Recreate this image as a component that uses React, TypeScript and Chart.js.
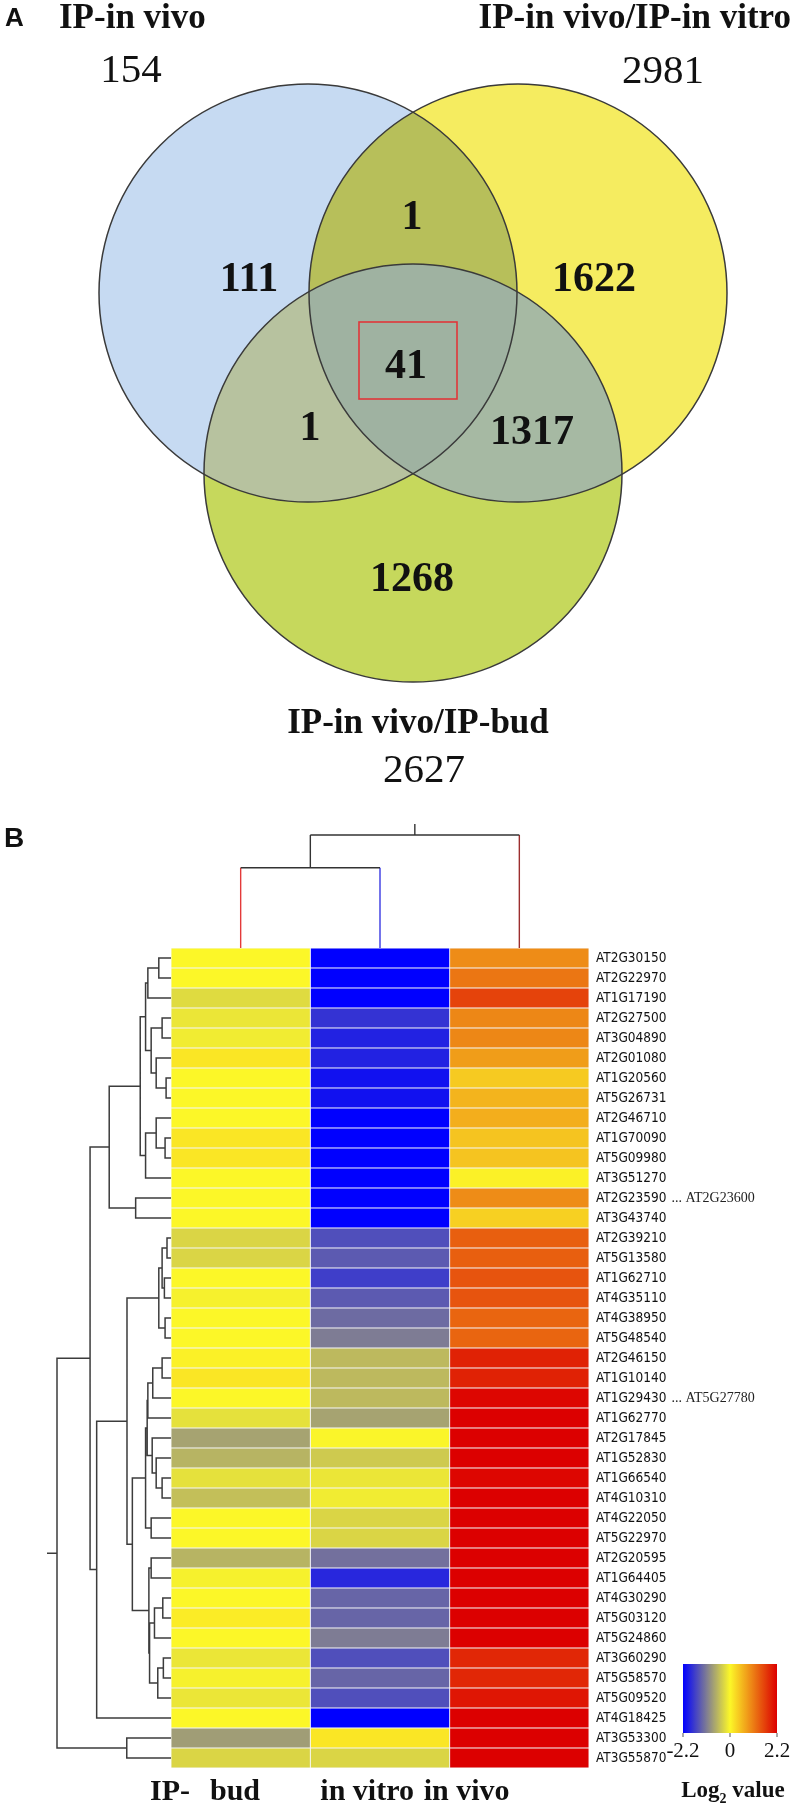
import React, { useEffect, useRef } from 'react';
import { Chart, registerables } from 'chart.js';

Chart.register(...registerables);

// ---------------- Panel A data (Venn) ----------------
const setNames = ['IP-in vivo', 'IP-in vivo/IP-in vitro', 'IP-in vivo/IP-bud'];
const setTotals = [154, 2981, 2627];
// regions: vivo only, vivo∩vitro, vitro only, all three, vivo∩bud, vitro∩bud, bud only
const regionCounts = [111, 1, 1622, 41, 1, 1317, 1268];

// ---------------- Panel B data (heatmap) ----------------
const genes = [
  'AT2G30150', 'AT2G22970', 'AT1G17190', 'AT2G27500', 'AT3G04890', 'AT2G01080', 'AT1G20560',
  'AT5G26731', 'AT2G46710', 'AT1G70090', 'AT5G09980', 'AT3G51270', 'AT2G23590', 'AT3G43740',
  'AT2G39210', 'AT5G13580', 'AT1G62710', 'AT4G35110', 'AT4G38950', 'AT5G48540', 'AT2G46150',
  'AT1G10140', 'AT1G29430', 'AT1G62770', 'AT2G17845', 'AT1G52830', 'AT1G66540', 'AT4G10310',
  'AT4G22050', 'AT5G22970', 'AT2G20595', 'AT1G64405', 'AT4G30290', 'AT5G03120', 'AT5G24860',
  'AT3G60290', 'AT5G58570', 'AT5G09520', 'AT4G18425', 'AT3G53300', 'AT3G55870',
];
const columns = ['bud', 'in vitro', 'in vivo'];
const budLog2 = [
  0.0, 0.0, -0.25, -0.15, -0.1, 0.15, 0.0, 0.0, 0.0, 0.15, 0.15, 0.0, 0.0, 0.0,
  -0.3, -0.3, 0.0, -0.05, 0.0, 0.0, 0.05, 0.15, 0.0, -0.2, -0.75, -0.6, -0.2, -0.5,
  0.0, 0.0, -0.6, -0.05, 0.0, 0.1, 0.0, -0.15, -0.05, -0.15, 0.0, -0.8, -0.3,
];
const vitroLog2 = [
  -2.2, -2.2, -2.2, -1.75, -1.9, -1.9, -2.05, -2.05, -2.2, -2.2, -2.2, -2.2, -2.2, -2.2,
  -1.5, -1.4, -1.65, -1.4, -1.25, -1.1, -0.55, -0.55, -0.55, -0.75, -0.02, -0.4, -0.15, -0.1,
  -0.3, -0.3, -1.2, -1.85, -1.3, -1.3, -1.1, -1.5, -1.3, -1.5, -2.2, 0.15, -0.3,
];
const vivoLog2 = [
  0.95, 1.15, 1.6, 1.0, 1.0, 0.8, 0.4, 0.6, 0.65, 0.45, 0.45, 0.05, 0.95, 0.35,
  1.35, 1.35, 1.45, 1.45, 1.3, 1.3, 1.9, 1.9, 2.15, 2.2, 2.2, 2.2, 2.15, 2.2,
  2.2, 2.2, 2.2, 2.2, 2.2, 2.2, 2.2, 1.85, 1.85, 2.0, 2.2, 2.2, 2.2,
];
const legendTicks = [-2.2, 0, 2.2];
const noteGenes = ['AT2G23590', 'AT1G29430'];
const noteTexts = ['... AT2G23600', '... AT5G27780'];
const bottomLabels = ['IP-', 'bud', 'in vitro', 'in vivo'];
const bottomLabelColumn = [0, 0, 1, 2];

// row dendrogram: [childA, childB, height]; leaves 0..40, merge k -> node 41+k
const rowMerges = [
  [0, 1, 0.107], [41, 2, 0.203], [3, 4, 0.078], [6, 7, 0.043], [5, 44, 0.13],
  [43, 45, 0.174], [42, 46, 0.223], [9, 10, 0.052], [8, 48, 0.13], [49, 11, 0.223],
  [47, 50, 0.27], [12, 13, 0.31], [51, 52, 0.542], [14, 15, 0.035], [16, 17, 0.058],
  [54, 55, 0.078], [18, 19, 0.052], [56, 57, 0.107], [20, 21, 0.078], [59, 22, 0.16],
  [60, 23, 0.203], [26, 27, 0.078], [25, 62, 0.13], [24, 63, 0.165], [61, 64, 0.209],
  [28, 29, 0.174], [65, 66, 0.223], [30, 31, 0.174], [32, 33, 0.072], [69, 34, 0.145],
  [35, 36, 0.067], [71, 37, 0.116], [70, 72, 0.188], [68, 73, 0.194], [67, 74, 0.339],
  [58, 75, 0.386], [76, 38, 0.652], [53, 77, 0.71], [39, 40, 0.388], [78, 79, 1.0],
];
// column dendrogram: leaves 0..2, merge k -> node 3+k
const colMerges = [[0, 1, 0.71], [3, 2, 1.0]];

// ---------------- layout & style ----------------
const PAGE_W = 793;
const VENN_H = 800;
const HEAT_TOP = 800;
const HEAT_H = 1011;
const SERIF = "'Liberation Serif', 'Times New Roman', serif";
const SANS = "'Liberation Sans', Arial, sans-serif";
const GENE_FONT = "'DejaVu Sans Condensed', 'Liberation Sans', sans-serif";
const GENE_SIZE = 13.5;

const circleLayout = [
  { x: 308, y: 293, r: 209 },
  { x: 518, y: 293, r: 209 },
  { x: 413, y: 473, r: 209 },
];
const circleFill = ['#c6daf2', '#f5ec60', '#c6d85c'];
const overlapFill = { ab: '#b7bf5a', ac: '#b7c29f', bc: '#a6b9a3', abc: '#9fb2a1' };
const regionLabelPos = [[249, 291], [412, 229], [594, 291], [406, 378], [310, 440], [532, 444], [412, 591]];
const setNamePos = [
  { x: 59, y: 28, align: 'left' },
  { x: 791, y: 28, align: 'right' },
  { x: 418, y: 733, align: 'center' },
];
const setTotalPos = [[131, 82], [663, 83], [424, 782]];
const highlightRect = [359, 322, 457, 399];

const BLUE = [0, 0, 255];
const YELLOW = [252, 247, 40];
const RED = [220, 0, 0];
function colorFor(v: number): string {
  const t = Math.max(-1, Math.min(1, v / 2.2));
  const target = t < 0 ? BLUE : RED;
  const f = Math.abs(t);
  const c = YELLOW.map((x, i) => Math.round(x + (target[i] - x) * f));
  return `rgb(${c[0]},${c[1]},${c[2]})`;
}

const vennPlugin = {
  id: 'vennDecor',
  afterDatasetsDraw(chart: any) {
    const ctx = chart.ctx;
    const sx = chart.scales.x;
    const sy = chart.scales.y;
    const pts = chart.getDatasetMeta(0).data.map((el: any, i: number) => ({
      x: el.x,
      y: el.y,
      r: sx.getPixelForValue(circleLayout[i].x + circleLayout[i].r) - sx.getPixelForValue(circleLayout[i].x),
    }));
    const circle = (p: any) => {
      ctx.beginPath();
      ctx.arc(p.x, p.y, p.r, 0, Math.PI * 2);
    };
    ctx.save();
    pts.forEach((p: any, i: number) => {
      circle(p);
      ctx.fillStyle = circleFill[i];
      ctx.fill();
    });
    const fillOverlap = (idx: number[], color: string) => {
      ctx.save();
      idx.forEach((i) => {
        circle(pts[i]);
        ctx.clip();
      });
      ctx.fillStyle = color;
      ctx.fillRect(0, 0, chart.width, chart.height);
      ctx.restore();
    };
    fillOverlap([0, 1], overlapFill.ab);
    fillOverlap([0, 2], overlapFill.ac);
    fillOverlap([1, 2], overlapFill.bc);
    fillOverlap([0, 1, 2], overlapFill.abc);
    ctx.strokeStyle = '#3a3a3a';
    ctx.lineWidth = 1.5;
    pts.forEach((p: any) => {
      circle(p);
      ctx.stroke();
    });
    // highlight box
    const [x0, y0, x1, y1] = highlightRect;
    ctx.strokeStyle = '#e0363a';
    ctx.lineWidth = 1.6;
    ctx.strokeRect(sx.getPixelForValue(x0), sy.getPixelForValue(y0),
      sx.getPixelForValue(x1) - sx.getPixelForValue(x0), sy.getPixelForValue(y1) - sy.getPixelForValue(y0));
    // texts
    ctx.fillStyle = '#111';
    ctx.textBaseline = 'alphabetic';
    ctx.font = `bold 26px ${SANS}`;
    ctx.textAlign = 'left';
    ctx.fillText('A', 5, 26);
    ctx.font = `bold 35px ${SERIF}`;
    setNames.forEach((n, i) => {
      const p = setNamePos[i];
      ctx.textAlign = p.align;
      ctx.fillText(n, sx.getPixelForValue(p.x), sy.getPixelForValue(p.y));
    });
    ctx.font = `41px ${SERIF}`;
    ctx.textAlign = 'center';
    setTotals.forEach((v, i) => {
      ctx.fillText(String(v), sx.getPixelForValue(setTotalPos[i][0]), sy.getPixelForValue(setTotalPos[i][1]));
    });
    ctx.font = `bold 42px ${SERIF}`;
    regionCounts.forEach((v, i) => {
      ctx.fillText(String(v), sx.getPixelForValue(regionLabelPos[i][0]), sy.getPixelForValue(regionLabelPos[i][1]));
    });
    ctx.restore();
  },
};

const ROW_DENDRO_W = 114;
const COL_DENDRO_H = 113;
const legColors = ['#e33a3a', '#3838e2', '#9c2e2e'];

const heatPlugin = {
  id: 'heatDecor',
  afterDraw(chart: any) {
    const ctx = chart.ctx;
    const ys = chart.scales.y;
    const xs = chart.scales.x;
    const area = chart.chartArea;
    ctx.save();
    // panel letter
    ctx.fillStyle = '#111';
    ctx.font = `bold 28px ${SANS}`;
    ctx.textAlign = 'left';
    ctx.textBaseline = 'alphabetic';
    ctx.fillText('B', 4, 47);

    // row dendrogram
    const nodes: any[] = genes.map((_, i) => ({ x: area.left, y: ys.getPixelForValue(i) }));
    ctx.strokeStyle = '#3c3c3c';
    ctx.lineWidth = 1.5;
    ctx.beginPath();
    rowMerges.forEach(([a, b, h]) => {
      const A = nodes[a];
      const B = nodes[b];
      const x = area.left - h * ROW_DENDRO_W;
      ctx.moveTo(A.x, A.y);
      ctx.lineTo(x, A.y);
      ctx.lineTo(x, B.y);
      ctx.lineTo(B.x, B.y);
      nodes.push({ x, y: (A.y + B.y) / 2 });
    });
    const root = nodes[nodes.length - 1];
    ctx.moveTo(root.x, root.y);
    ctx.lineTo(root.x - 10, root.y);
    ctx.stroke();

    // column dendrogram
    const cn: any[] = columns.map((_, c) => ({ x: xs.getPixelForValue(c + 0.5), y: area.top, leaf: c }));
    ctx.lineWidth = 1.4;
    colMerges.forEach(([a, b, h]) => {
      const A = cn[a];
      const B = cn[b];
      const y = area.top - h * COL_DENDRO_H;
      [A, B].forEach((N) => {
        ctx.strokeStyle = N.leaf !== undefined ? legColors[N.leaf] : '#333';
        ctx.beginPath();
        ctx.moveTo(N.x, N.y);
        ctx.lineTo(N.x, y);
        ctx.stroke();
      });
      ctx.strokeStyle = '#333';
      ctx.beginPath();
      ctx.moveTo(A.x, y);
      ctx.lineTo(B.x, y);
      ctx.stroke();
      cn.push({ x: (A.x + B.x) / 2, y });
    });
    const croot = cn[cn.length - 1];
    ctx.strokeStyle = '#333';
    ctx.beginPath();
    ctx.moveTo(croot.x, croot.y);
    ctx.lineTo(croot.x, croot.y - 11);
    ctx.stroke();

    // notes after some gene labels
    const tickFont = `${GENE_SIZE}px ${GENE_FONT}`;
    noteGenes.forEach((g, k) => {
      const i = genes.indexOf(g);
      ctx.font = tickFont;
      const w = ctx.measureText(g).width;
      ctx.font = `14px ${SERIF}`;
      ctx.fillStyle = '#222';
      ctx.textAlign = 'left';
      ctx.textBaseline = 'middle';
      ctx.fillText(noteTexts[k], area.right + 7 + w + 5, ys.getPixelForValue(i));
    });

    // bottom column labels
    const offsets = [-21, 39, 10, -26];
    ctx.font = `bold 30px ${SERIF}`;
    ctx.fillStyle = '#111';
    ctx.textAlign = 'left';
    ctx.textBaseline = 'alphabetic';
    bottomLabels.forEach((t, i) => {
      ctx.fillText(t, xs.getPixelForValue(bottomLabelColumn[i]) + offsets[i], 1000);
    });

    // colour bar legend
    const lx0 = 683, lx1 = 777, ly0 = 864, ly1 = 933;
    const vmin = legendTicks[0], vmax = legendTicks[legendTicks.length - 1];
    const grad = ctx.createLinearGradient(lx0, 0, lx1, 0);
    for (let s = 0; s <= 40; s++) {
      const v = vmin + ((vmax - vmin) * s) / 40;
      grad.addColorStop(s / 40, colorFor(v));
    }
    ctx.fillStyle = grad;
    ctx.fillRect(lx0, ly0, lx1 - lx0, ly1 - ly0);
    ctx.strokeStyle = '#555';
    ctx.lineWidth = 1;
    ctx.font = `21px ${SERIF}`;
    ctx.fillStyle = '#111';
    ctx.textAlign = 'center';
    legendTicks.forEach((v) => {
      const x = lx0 + ((v - vmin) / (vmax - vmin)) * (lx1 - lx0);
      ctx.beginPath();
      ctx.moveTo(x, ly1);
      ctx.lineTo(x, ly1 + 4);
      ctx.stroke();
      ctx.fillText(v === 0 ? '0' : v.toFixed(1), x, 957);
    });
    // Log2 value
    ctx.textAlign = 'left';
    const big = `bold 23px ${SERIF}`;
    const small = `bold 14px ${SERIF}`;
    ctx.font = big;
    const w1 = ctx.measureText('Log').width;
    const w3 = ctx.measureText(' value').width;
    ctx.font = small;
    const w2 = ctx.measureText('2').width;
    let x = 733 - (w1 + w2 + w3) / 2;
    ctx.font = big;
    ctx.fillText('Log', x, 997);
    x += w1;
    ctx.font = small;
    ctx.fillText('2', x, 1003);
    x += w2;
    ctx.font = big;
    ctx.fillText(' value', x, 997);
    ctx.restore();
  },
};

export default function App() {
  const vennRef = useRef<HTMLCanvasElement>(null);
  const heatRef = useRef<HTMLCanvasElement>(null);

  useEffect(() => {
    const venn = new Chart(vennRef.current as HTMLCanvasElement, {
      type: 'scatter',
      data: {
        datasets: [
          {
            label: 'sets',
            data: circleLayout.map((c) => ({ x: c.x, y: c.y })),
            pointRadius: 0,
            pointHoverRadius: 0,
            pointBorderWidth: 0,
            borderWidth: 0,
            showLine: false,
          },
        ],
      },
      options: {
        responsive: false,
        animation: false,
        devicePixelRatio: 1,
        layout: { padding: 0 },
        plugins: { legend: { display: false }, tooltip: { enabled: false } },
        scales: {
          x: { type: 'linear', min: 0, max: PAGE_W, display: false },
          y: { type: 'linear', min: 0, max: VENN_H, reverse: true, display: false },
        },
      },
      plugins: [vennPlugin],
    } as any);

    const values = [budLog2, vitroLog2, vivoLog2];
    const heat = new Chart(heatRef.current as HTMLCanvasElement, {
      type: 'bar',
      data: {
        labels: genes,
        datasets: columns.map((col, c) => ({
          label: col,
          data: genes.map(() => [c, c + 1]),
          backgroundColor: values[c].map(colorFor),
          borderColor: 'rgba(245,245,245,0.95)',
          borderWidth: 0.8,
          borderSkipped: false,
          grouped: false,
          barPercentage: 1,
          categoryPercentage: 1,
        })),
      },
      options: {
        indexAxis: 'y',
        responsive: false,
        animation: false,
        devicePixelRatio: 1,
        layout: { padding: { left: 171, top: 148, right: 0, bottom: 43 } },
        plugins: { legend: { display: false }, tooltip: { enabled: false } },
        scales: {
          x: { type: 'linear', min: 0, max: 3, display: false },
          y: {
            type: 'category',
            position: 'right',
            grid: { display: false, drawTicks: false },
            border: { display: false },
            ticks: { color: '#111', padding: 7, autoSkip: false, font: { family: GENE_FONT, size: GENE_SIZE } },
            afterFit: (s: any) => {
              s.width = 204;
            },
          },
        },
      },
      plugins: [heatPlugin],
    } as any);

    return () => {
      venn.destroy();
      heat.destroy();
    };
  }, []);

  return (
    <div style={{ position: 'absolute', left: 0, top: 0, width: PAGE_W, height: 1811, background: '#fff' }}>
      <canvas ref={vennRef} width={PAGE_W} height={VENN_H} style={{ display: 'block', width: PAGE_W, height: VENN_H }} />
      <canvas
        ref={heatRef}
        width={PAGE_W}
        height={HEAT_H}
        style={{ display: 'block', position: 'absolute', left: 0, top: HEAT_TOP, width: PAGE_W, height: HEAT_H }}
      />
    </div>
  );
}
